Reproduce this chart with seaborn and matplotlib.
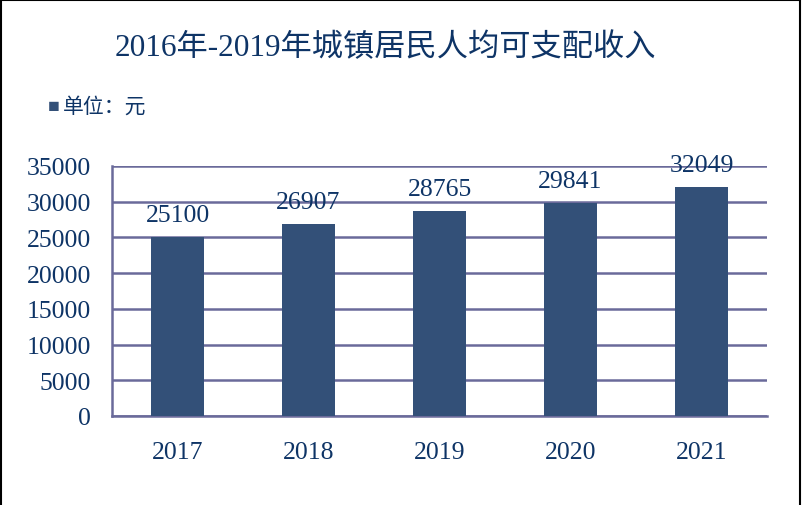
import matplotlib.pyplot as plt
import seaborn as sns
import pandas as pd
from matplotlib.lines import Line2D

# data
years = ['2017', '2018', '2019', '2020', '2021']
income = [25100, 26907, 28765, 29841, 32049]
yticks = [0, 5000, 10000, 15000, 20000, 25000, 30000, 35000]

bar_color = '#335078'
text_color = '#0E3466'
grid_color = '#6A6A9A'

sns.set_style('white')
plt.rcParams['font.family'] = ['Liberation Serif', 'Noto Sans CJK SC']

df = pd.DataFrame({'year': years, 'income': income})

fig = plt.figure(figsize=(8.02, 5.06), dpi=100)
ax = fig.add_axes([0.1397, 0.1759, 0.8167, 0.4941])

sns.barplot(data=df, x='year', y='income', color=bar_color, width=0.4,
            saturation=1, linewidth=0, ax=ax, zorder=3)

# value labels
for i, v in enumerate(income):
    ax.text(i, v + 1500, str(v), ha='center', va='bottom',
            fontsize=18.5, color=text_color, zorder=4)

ax.set_ylim(0, 35000)
ax.set_xlim(-0.5, 4.5)
ax.set_yticks(yticks)
ax.set_yticklabels([str(t) for t in yticks], fontsize=18.5, color=text_color)
ax.set_xticklabels(years, fontsize=18.5, color=text_color)
ax.tick_params(axis='y', length=0, pad=15)
ax.tick_params(axis='x', which='major', length=0, pad=18)
ax.set_xticks([-0.5, 0.5, 1.5, 2.5, 3.5, 4.5], minor=True)
ax.tick_params(axis='x', which='minor', length=6, width=1.5,
               color=grid_color, direction='out')
ax.set_xlabel('')
ax.set_ylabel('')

ax.yaxis.grid(True, color=grid_color, linewidth=1.8, zorder=0)
ax.set_axisbelow(True)
for side in ['top', 'right']:
    ax.spines[side].set_visible(False)
for side in ['left', 'bottom']:
    ax.spines[side].set_color(grid_color)
    ax.spines[side].set_linewidth(1.8)

# title and unit
fig.text(0.481, 0.905, '2016年-2019年城镇居民人均可支配收入', ha='center',
         va='center', fontsize=22.5, color=text_color)
fig.text(0.06, 0.787, '■', ha='left', va='center', fontsize=14,
         color=bar_color)
fig.text(0.079, 0.787, '单位：元', ha='left', va='center', fontsize=15,
         color=text_color)

# outer frame (no bottom edge)
fig.add_artist(Line2D([0.0015, 0.0015], [0, 0.999], color='black', lw=1.5))
fig.add_artist(Line2D([0.998, 0.998], [0, 0.999], color='black', lw=1.5))
fig.add_artist(Line2D([0.0015, 0.998], [0.998, 0.998], color='black', lw=1.5))

fig.savefig('out.png', dpi=100)
